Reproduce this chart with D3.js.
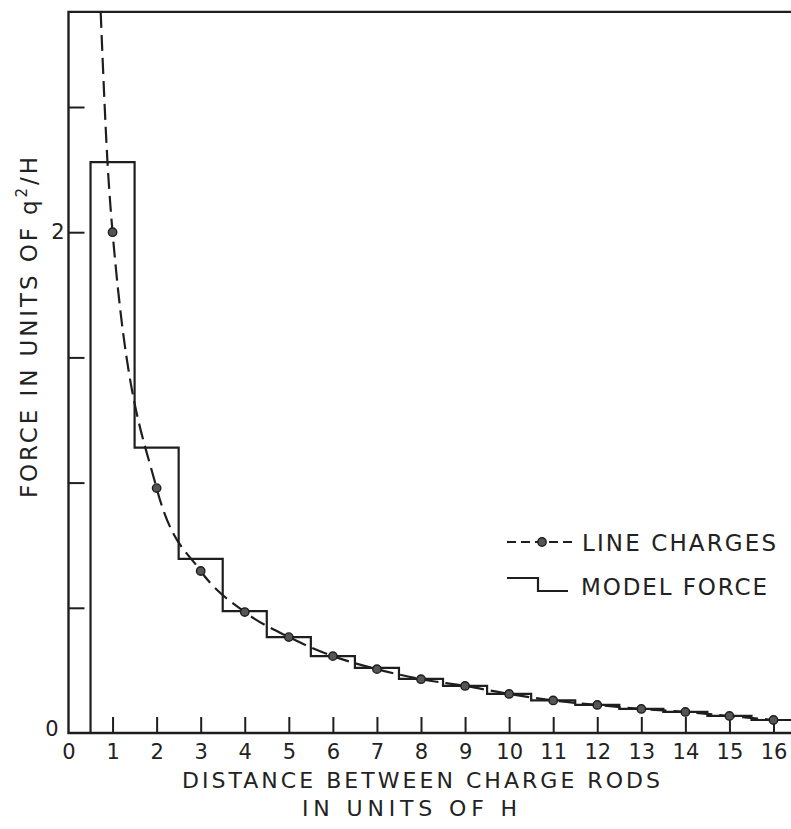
<!DOCTYPE html>
<html>
<head>
<meta charset="utf-8">
<script src="https://cdn.jsdelivr.net/npm/d3@7"></script>
<style>
  html, body { margin: 0; padding: 0; background: #fff; }
  svg { display: block; }
  text { font-family: "DejaVu Sans", "Liberation Sans", sans-serif; fill: #222; }
</style>
</head>
<body>
<svg id="chart" width="791" height="829"></svg>
<script>
// distance between charge rods, in units of H
const DISTANCE = [1, 2, 3, 4, 5, 6, 7, 8, 9, 10, 11, 12, 13, 14, 15, 16];
// force, units of q^2/H
const LINE_CHARGES = [2.0, 0.978, 0.647, 0.483, 0.383, 0.307, 0.255, 0.215, 0.188, 0.156, 0.13, 0.112, 0.096, 0.084, 0.068, 0.052];
const MODEL_FORCE = [2.28, 1.14, 0.695, 0.487, 0.383, 0.307, 0.26, 0.216, 0.188, 0.156, 0.13, 0.112, 0.096, 0.084, 0.068, 0.052];
// dashed curve continues above the first point up to the frame
const CURVE_LEAD_X = [0.73, 0.885];
const CURVE_LEAD_Y = [2.88, 2.28];
const X_TICKS = [0, 1, 2, 3, 4, 5, 6, 7, 8, 9, 10, 11, 12, 13, 14, 15, 16];
const Y_TICKS = [0, 0.5, 1, 1.5, 2, 2.5];
const Y_LABELS = [0, 2];
const Y_TOP = 2.88;

const WIDTH = 791;
const INK = "#1e1e1e";

const svg = d3.select("#chart");
const x = d3.scaleLinear().domain([0, 16]).range([68.5, 773.5]);
const y = d3.scaleLinear().domain([0, 2.5]).range([733, 107]);

svg.append("defs")
  .append("clipPath")
  .attr("id", "plot-clip")
  .append("rect")
  .attr("x", x(0))
  .attr("y", y(Y_TOP))
  .attr("width", WIDTH - x(0))
  .attr("height", y(0) - y(Y_TOP));

// frame: left axis, top rule, baseline
svg.append("path")
  .attr("d", `M${WIDTH},${y(Y_TOP)} H${x(0)} V${y(0)} H${WIDTH}`)
  .attr("fill", "none")
  .attr("stroke", INK)
  .attr("stroke-width", 2.4);

const xAxis = svg.append("g")
  .attr("transform", `translate(0,${y(0)})`)
  .call(d3.axisBottom(x).tickValues(X_TICKS).tickSize(-16).tickPadding(11).tickFormat((d) => d));
xAxis.select(".domain").remove();
xAxis.selectAll("line").attr("stroke", INK).attr("stroke-width", 2);
xAxis.selectAll("text").attr("font-size", 21).attr("fill", INK);
xAxis.selectAll(".tick").filter((d) => d === 0).select("line").remove();

const yAxis = svg.append("g")
  .attr("transform", `translate(${x(0)},0)`)
  .call(d3.axisLeft(y).tickValues(Y_TICKS).tickSize(-16).tickPadding(4)
    .tickFormat((d) => (Y_LABELS.includes(d) ? d : "")));
yAxis.select(".domain").remove();
yAxis.selectAll("line").attr("stroke", INK).attr("stroke-width", 2);
yAxis.selectAll("text").attr("font-size", 21).attr("fill", INK);
yAxis.selectAll(".tick").filter((d) => d === 0).select("line").remove();
yAxis.selectAll(".tick").filter((d) => d === 0).select("text")
  .attr("dx", -6).attr("dy", "0.1em");

const plot = svg.append("g").attr("clip-path", "url(#plot-clip)");

// model force: one flat step per rod, from r-0.5 to r+0.5
const stepPoints = [[DISTANCE[0] - 0.5, 0]];
DISTANCE.forEach((r, i) => {
  stepPoints.push([r - 0.5, MODEL_FORCE[i]]);
  stepPoints.push([r + 0.5, MODEL_FORCE[i]]);
});
plot.append("path")
  .datum(stepPoints)
  .attr("fill", "none")
  .attr("stroke", INK)
  .attr("stroke-width", 2.2)
  .attr("d", d3.line().x((d) => x(d[0])).y((d) => y(d[1])));

// line charges: dashed smooth curve through the points
const curvePoints = CURVE_LEAD_X.map((r, i) => [r, CURVE_LEAD_Y[i]])
  .concat(DISTANCE.map((r, i) => [r, LINE_CHARGES[i]]));
plot.append("path")
  .datum(curvePoints)
  .attr("fill", "none")
  .attr("stroke", INK)
  .attr("stroke-width", 2.2)
  .attr("stroke-dasharray", "16,7")
  .attr("d", d3.line().curve(d3.curveMonotoneX).x((d) => x(d[0])).y((d) => y(d[1])));

plot.selectAll(".charge-dot")
  .data(DISTANCE.map((r, i) => [r, LINE_CHARGES[i]]))
  .join("circle")
  .attr("class", "charge-dot")
  .attr("cx", (d) => x(d[0]))
  .attr("cy", (d) => y(d[1]))
  .attr("r", 4.2)
  .attr("fill", "#555")
  .attr("stroke", INK)
  .attr("stroke-width", 1.4);

// legend
const legend = svg.append("g");
legend.append("line")
  .attr("x1", 507).attr("x2", 577).attr("y1", 542).attr("y2", 542)
  .attr("stroke", INK).attr("stroke-width", 2.2).attr("stroke-dasharray", "9,5");
legend.append("circle")
  .attr("cx", 542).attr("cy", 542).attr("r", 4.2)
  .attr("fill", "#555").attr("stroke", INK).attr("stroke-width", 1.4);
legend.append("text")
  .attr("x", 582).attr("y", 551)
  .attr("font-size", 23)
  .attr("textLength", 194).attr("lengthAdjust", "spacing")
  .text("LINE CHARGES");
legend.append("path")
  .attr("d", "M507,578 H538 V591 H568")
  .attr("fill", "none").attr("stroke", INK).attr("stroke-width", 2.2);
legend.append("text")
  .attr("x", 581).attr("y", 595)
  .attr("font-size", 23)
  .attr("textLength", 186).attr("lengthAdjust", "spacing")
  .text("MODEL FORCE");

// axis titles
svg.append("text")
  .attr("x", 182).attr("y", 788)
  .attr("font-size", 22)
  .attr("textLength", 478).attr("lengthAdjust", "spacing")
  .text("DISTANCE BETWEEN CHARGE RODS");
svg.append("text")
  .attr("x", 302).attr("y", 816)
  .attr("font-size", 22)
  .attr("textLength", 215).attr("lengthAdjust", "spacing")
  .text("IN UNITS OF H");

const yTitle = svg.append("text")
  .attr("transform", "translate(37,498) rotate(-90)")
  .attr("font-size", 23)
  .attr("textLength", 341).attr("lengthAdjust", "spacing");
yTitle.append("tspan").text("FORCE IN UNITS OF q");
yTitle.append("tspan").attr("dy", -10).attr("font-size", 15).text("2");
yTitle.append("tspan").attr("dy", 10).text("/H");
</script>
</body>
</html>
